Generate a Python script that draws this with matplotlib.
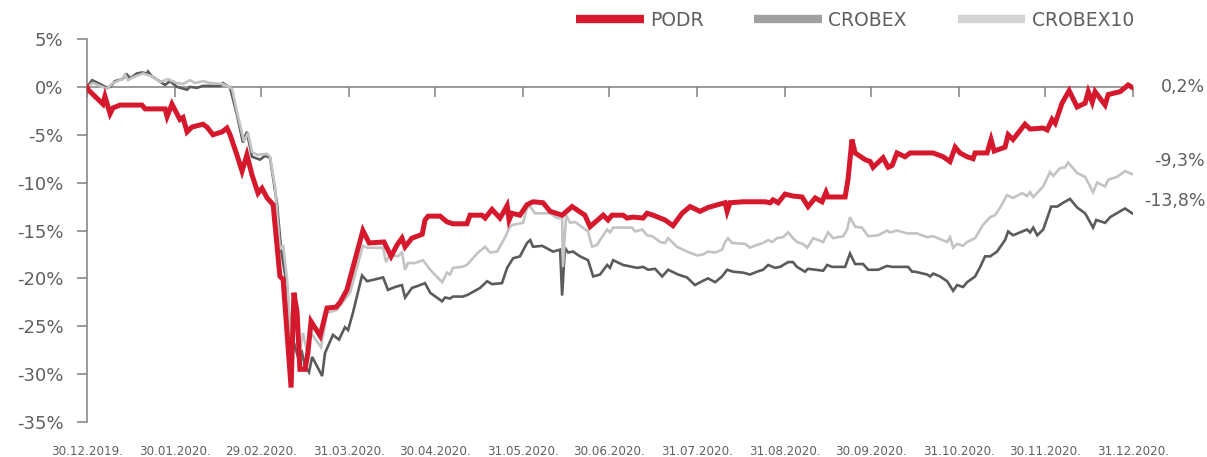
import matplotlib
matplotlib.use("Agg")
import matplotlib.pyplot as plt
from matplotlib.lines import Line2D
import pandas as pd

# Day offsets from 30.12.2019 and cumulative change in %
PODR_DAYS = [0, 0.4, 5.6, 6.3, 8.1, 9.1, 11.6, 19.3, 20.4, 27.4, 28.1, 29.8, 32.6, 33.7, 35.1, 36.8,
             40.7, 42.1, 44.2, 47.4, 49.1, 50.2, 52.6, 54.4, 56.1, 57.9, 60.0, 61.4, 63.2, 65.3,
             67.7, 68.8, 71.6, 72.6, 73.7, 74.7, 76.5, 77.5, 78.6, 81.8, 84.2, 87.4, 88.8, 91.2,
             96.8, 99.0, 104.2, 106.7, 108.8, 110.5, 111.6, 114.0, 117.6, 118.6, 119.7, 123.9,
             126.3, 128.4, 133.3, 134.4, 138.6, 139.7, 142.1, 144.9, 146.3, 147.4, 148.1, 149.1,
             151.9, 154.4, 156.5, 160.0, 162.5, 166.7, 170.2, 174.7, 176.5, 181.1, 182.8, 184.2,
             188.1, 189.5, 191.6, 195.1, 196.5, 198.6, 202.8, 205.6, 208.8, 211.6, 215.1, 217.9,
             221.4, 223.9, 224.6, 225.6, 230.2, 237.9, 239.7, 240.7, 242.5, 244.9, 247.7, 250.9,
             253.0, 255.5, 257.9, 259.3, 260.0, 266.0, 267.0, 268.4, 269.5, 273.0, 274.8, 275.8,
             279.3, 281.1, 282.5, 284.2, 287.0, 288.8, 296.9, 300.4, 302.8, 304.6, 306.3, 308.8,
             310.9, 311.6, 315.8, 317.2, 318.3, 322.1, 323.2, 324.9, 329.1, 330.9, 335.5, 336.9,
             338.6, 339.7, 342.1, 344.6, 347.4, 350.2, 351.3, 352.7, 353.7, 357.2, 358.3, 362.5,
             365.3, 367.0]
PODR_PCT = [0, -0.3, -1.8, -1.0, -2.8, -2.2, -1.9, -1.9, -2.3, -2.3, -3.1, -1.8, -3.4, -3.2, -4.7, -4.2,
            -3.9, -4.2, -5.0, -4.7, -4.3, -5.0, -7.1, -8.8, -7.1, -9.2, -11.1, -10.6, -11.6, -12.3,
            -19.8, -20.1, -31.4, -21.5, -23.5, -29.5, -29.5, -27.8, -24.5, -26.0, -23.1, -23.0, -22.5, -21.2,
            -15.0, -16.3, -16.2, -17.7, -16.5, -15.8, -16.7, -15.8, -15.4, -13.9, -13.5, -13.5,
            -14.1, -14.3, -14.3, -13.4, -13.4, -13.7, -12.8, -13.7, -13.0, -12.4, -13.9, -13.2,
            -13.4, -12.3, -12.0, -12.1, -13.0, -13.4, -12.5, -13.4, -14.6, -13.4, -13.9, -13.4,
            -13.4, -13.7, -13.6, -13.7, -13.2, -13.4, -13.9, -14.5, -13.2, -12.5, -13.0, -12.6,
            -12.3, -12.1, -13.0, -12.1, -12.0, -12.0, -12.1, -11.8, -12.1, -11.2, -11.4, -11.5,
            -12.5, -11.6, -12.0, -11.0, -11.5, -11.5, -9.7, -5.5, -6.9, -7.6, -7.8, -8.4,
            -7.4, -8.4, -8.2, -6.9, -7.3, -6.9, -6.9, -7.3, -7.8, -6.3, -6.9, -7.3,
            -7.5, -6.9, -6.9, -5.5, -6.7, -6.3, -5.0, -5.5, -3.9, -4.4, -4.3, -4.5,
            -3.4, -3.8, -1.7, -0.4, -2.1, -1.7, -0.5, -1.6, -0.5, -1.9, -0.8, -0.5,
            0.2, -0.1]

CROBEX_DAYS = [0, 1.8, 4.6, 7.0, 8.1, 9.8, 12.3, 14.0, 15.1, 17.5, 19.3, 21.1, 21.4, 22.8, 27.4, 29.1,
               31.6, 35.1, 36.1, 38.6, 40.7, 46.7, 47.7, 50.2, 52.6, 54.7, 56.1, 57.9, 60.7, 62.5,
               64.2, 65.3, 66.7, 68.1, 70.2, 71.9, 72.6, 74.0, 75.4, 76.5, 77.9, 79.0, 82.5, 83.5,
               86.3, 88.4, 90.5, 91.6, 93.3, 96.5, 98.3, 103.9, 105.6, 108.1, 110.5, 111.6, 114.0,
               116.9, 118.6, 120.4, 124.6, 125.6, 127.4, 128.4, 131.9, 133.7, 137.9, 140.4, 142.1,
               145.6, 147.4, 149.5, 151.9, 154.4, 155.5, 156.5, 159.7, 163.5, 166.0, 166.7, 167.7,
               168.8, 170.5, 173.0, 175.8, 177.6, 180.0, 182.5, 183.5, 184.6, 186.0, 188.1, 193.0,
               195.1, 196.9, 199.3, 201.8, 203.9, 207.4, 210.5, 213.3, 215.8, 217.9, 220.4, 222.8,
               224.6, 226.7, 230.2, 232.6, 235.1, 237.2, 239.0, 241.4, 243.2, 246.0, 247.7, 249.1,
               251.9, 253.0, 258.3, 259.7, 261.4, 266.0, 267.7, 269.5, 272.3, 274.1, 277.6, 280.7,
               282.5, 288.1, 289.5, 290.5, 294.8, 295.8, 296.9, 299.3, 301.8, 303.9, 305.3, 307.4,
               308.8, 311.6, 313.4, 315.1, 316.9, 319.3, 322.1, 323.2, 324.9, 329.8, 330.9, 332.0,
               333.4, 335.5, 338.3, 340.4, 342.5, 344.9, 347.4, 350.2, 353.0, 354.1, 357.2, 359.0,
               364.2, 366.7]
CROBEX_PCT = [0, 0.7, 0.3, -0.1, 0, 0.6, 0.8, 1.3, 0.9, 1.4, 1.5, 1.4, 1.6, 1.1, 0.2, 0.6,
              0, -0.3, 0, -0.1, 0.1, 0.1, 0.4, -0.1, -2.9, -5.8, -4.7, -7.3, -7.6, -7.2,
              -7.4, -9.5, -12.3, -17.0, -20.9, -28.3, -26.7, -28.2, -27.7, -29.2, -29.8, -28.2, -30.2, -27.8,
              -25.9, -26.4, -25.1, -25.4, -23.6, -19.7, -20.3, -19.9, -21.2, -20.9, -20.7, -22.0, -21.0,
              -20.7, -20.5, -21.5, -22.4, -22.0, -22.1, -21.9, -21.9, -21.7, -21.0, -20.3, -20.6,
              -20.5, -18.9, -17.9, -17.7, -16.3, -16.0, -16.7, -16.6, -17.2, -17.0, -21.8, -16.8,
              -17.3, -17.2, -17.7, -18.1, -19.8, -19.6, -18.6, -18.9, -18.1, -18.3, -18.6, -18.9,
              -18.8, -19.1, -19.0, -19.8, -19.1, -19.6, -19.9, -20.7, -20.3, -20.0, -20.4, -19.8,
              -19.1, -19.3, -19.4, -19.6, -19.3, -19.1, -18.6, -18.9, -18.8, -18.3, -18.3, -18.8,
              -19.3, -19.0, -19.2, -18.6, -18.8, -18.8, -17.4, -18.5, -18.5, -19.1, -19.1, -18.7,
              -18.8, -18.8, -19.3, -19.3, -19.6, -19.8, -19.5, -19.8, -20.3, -21.3, -20.7, -20.9,
              -20.4, -19.8, -18.8, -17.7, -17.7, -17.2, -16.0, -15.1, -15.5, -14.9, -15.2, -14.7,
              -15.5, -14.9, -12.5, -12.5, -12.1, -11.7, -12.6, -13.2, -14.7, -13.9, -14.2, -13.6,
              -12.7, -13.2]

CROBEX10_DAYS = [0, 2.1, 7.0, 9.1, 12.3, 13.3, 14.4, 16.1, 19.7, 22.8, 25.6, 28.4, 31.6, 33.7, 36.1,
                 37.9, 40.7, 43.2, 47.7, 50.9, 52.6, 55.1, 56.5, 57.9, 59.7, 63.2, 64.2, 66.0, 67.7,
                 68.8, 70.2, 71.6, 72.6, 73.7, 74.7, 75.8, 77.2, 78.6, 82.1, 84.2, 87.7, 90.5, 92.3,
                 96.8, 98.3, 103.9, 104.9, 106.3, 109.1, 110.5, 111.6, 112.6, 115.1, 117.9, 120.4,
                 124.6, 126.3, 127.4, 128.4, 131.6, 133.3, 137.2, 139.7, 141.4, 143.9, 146.7, 148.4,
                 149.5, 153.0, 154.4, 155.5, 157.2, 162.5, 164.9, 166.7, 167.0, 168.1, 169.5, 171.2,
                 174.0, 175.8, 177.2, 179.0, 180.0, 182.5, 183.5, 184.6, 191.2, 192.3, 194.8, 196.5,
                 198.3, 201.1, 202.8, 203.9, 205.3, 207.0, 210.5, 214.0, 216.2, 217.9, 220.4, 222.8,
                 223.9, 224.9, 226.3, 230.9, 232.6, 235.1, 237.2, 239.0, 240.4, 242.1, 244.2, 246.0,
                 247.4, 249.1, 251.2, 252.7, 254.8, 258.3, 260.0, 261.8, 265.3, 266.7, 267.7, 269.5,
                 271.9, 274.1, 277.6, 280.7, 281.8, 284.2, 287.7, 291.2, 294.8, 296.9, 301.8, 302.8,
                 303.9, 305.3, 307.4, 308.8, 311.6, 314.4, 316.9, 318.6, 320.4, 322.8, 324.9, 328.1,
                 329.8, 330.9, 332.0, 335.5, 337.9, 339.0, 341.4, 343.2, 344.2, 347.4, 350.2, 353.0,
                 354.4, 357.2, 358.3, 361.4, 364.2, 366.7]
CROBEX10_PCT = [0, 0.4, -0.2, 0.4, 0.8, 1.3, 0.7, 1.0, 1.4, 1.1, 0.5, 0.8, 0.4, 0.3, 0.7,
                0.4, 0.6, 0.4, 0.3, -0.2, -2.6, -5.7, -4.8, -6.8, -7.1, -7.0, -7.3, -10.5, -17.0,
                -16.5, -20.1, -27.1, -23.0, -25.7, -27.5, -25.7, -27.7, -25.7, -27.2, -23.6, -23.3, -22.2, -21.5,
                -16.6, -16.8, -16.8, -18.3, -17.5, -17.7, -17.3, -19.1, -18.4, -18.4, -18.1, -19.1,
                -20.4, -19.4, -19.6, -18.9, -18.8, -18.6, -17.3, -16.7, -17.3, -17.2, -15.7, -14.6,
                -14.4, -14.2, -12.6, -12.5, -13.2, -13.2, -13.7, -13.7, -18.8, -13.4, -14.2, -14.1,
                -14.7, -15.1, -16.7, -16.5, -16.0, -14.9, -15.2, -14.7, -14.7, -15.1, -14.9, -15.5,
                -15.6, -16.2, -16.3, -15.8, -16.2, -16.7, -17.2, -17.6, -17.5, -17.2, -17.3, -17.0,
                -16.2, -15.8, -16.3, -16.4, -16.8, -16.5, -16.3, -16.0, -16.2, -15.8, -15.7, -15.2,
                -15.7, -16.2, -16.4, -16.8, -15.8, -16.2, -15.2, -15.8, -15.6, -14.9, -13.6, -14.6,
                -14.7, -15.6, -15.5, -15.0, -15.2, -15.0, -15.3, -15.3, -15.7, -15.6, -16.2, -15.7,
                -16.8, -16.4, -16.6, -16.2, -15.8, -14.4, -13.6, -13.4, -12.6, -11.3, -11.6, -11.1,
                -11.4, -11.0, -11.5, -10.4, -8.9, -9.3, -8.5, -8.4, -7.9, -9.0, -9.4, -11.0,
                -10.0, -10.4, -9.7, -9.4, -8.8, -9.1]

SERIES = ["PODR", "CROBEX", "CROBEX10"]
END_LABELS = ["0,2%", "-9,3%", "-13,8%"]
TICK_LABELS = ["30.12.2019.", "30.01.2020.", "29.02.2020.", "31.03.2020.", "30.04.2020.",
               "31.05.2020.", "30.06.2020.", "31.07.2020.", "31.08.2020.", "30.09.2020.",
               "31.10.2020.", "30.11.2020.", "31.12.2020."]
Y_TICKS = [5, 0, -5, -10, -15, -20, -25, -30, -35]

RED = "#d5182b"
DARK = "#5b5b5b"
LIGHT = "#c3c3c3"
AXIS = "#808080"
TEXT = "#5f5f5f"

plt.rcParams["font.family"] = "DejaVu Sans"

start = pd.Timestamp("2019-12-30")
tick_days = [(pd.to_datetime(t, format="%d.%m.%Y.") - start).days for t in TICK_LABELS]

fig = plt.figure(figsize=(12.07, 4.57), dpi=100)
ax = fig.add_axes([87 / 1207, 35 / 457, 1046 / 1207, 383 / 457])

ax.plot(CROBEX_DAYS, CROBEX_PCT, color=DARK, lw=1.9, zorder=3, solid_joinstyle="miter")
ax.plot(CROBEX10_DAYS, CROBEX10_PCT, color=LIGHT, lw=1.9, zorder=4, solid_joinstyle="miter")
ax.plot(PODR_DAYS, PODR_PCT, color=RED, lw=3.6, zorder=5, solid_joinstyle="miter")

ax.set_xlim(tick_days[0], tick_days[-1])
ax.set_ylim(min(Y_TICKS), max(Y_TICKS))

for s in ["top", "right"]:
    ax.spines[s].set_visible(False)
ax.spines["bottom"].set_position(("data", 0))
for s in ["left", "bottom"]:
    ax.spines[s].set_color(AXIS)
    ax.spines[s].set_linewidth(1.1)

ax.set_yticks(Y_TICKS)
ax.set_yticklabels([f"{v}%" for v in Y_TICKS])
ax.tick_params(axis="y", direction="out", length=7, width=1.1, color=AXIS,
               labelcolor=TEXT, labelsize=13, pad=10)
ax.set_xticks(tick_days)
ax.tick_params(axis="x", direction="out", length=7, width=1.1, color=AXIS, labelbottom=False)

for d, lab in zip(tick_days, TICK_LABELS):
    ax.text(d, -0.076, lab, transform=ax.get_xaxis_transform(), ha="center", va="center",
            fontsize=8.6, color=TEXT)

# end-of-period labels on the right
for lab, y in zip(END_LABELS, [0, -7.7, -11.9]):
    ax.text(1.069, y, lab, transform=ax.get_yaxis_transform(), ha="right", va="center",
            fontsize=12.5, color=TEXT)

handles = [Line2D([], [], color=RED, lw=6, solid_capstyle="butt"),
           Line2D([], [], color="#a0a0a0", lw=6, solid_capstyle="butt"),
           Line2D([], [], color="#d3d3d3", lw=6, solid_capstyle="butt")]
leg = fig.legend(handles, SERIES, loc="center", bbox_to_anchor=(855 / 1207, 1 - 20 / 457),
                 ncol=3, frameon=False, fontsize=13.5, handlelength=3.6, handletextpad=0.35,
                 columnspacing=2.7, borderpad=0)
for t in leg.get_texts():
    t.set_color(TEXT)

fig.savefig("out.png", dpi=100)
